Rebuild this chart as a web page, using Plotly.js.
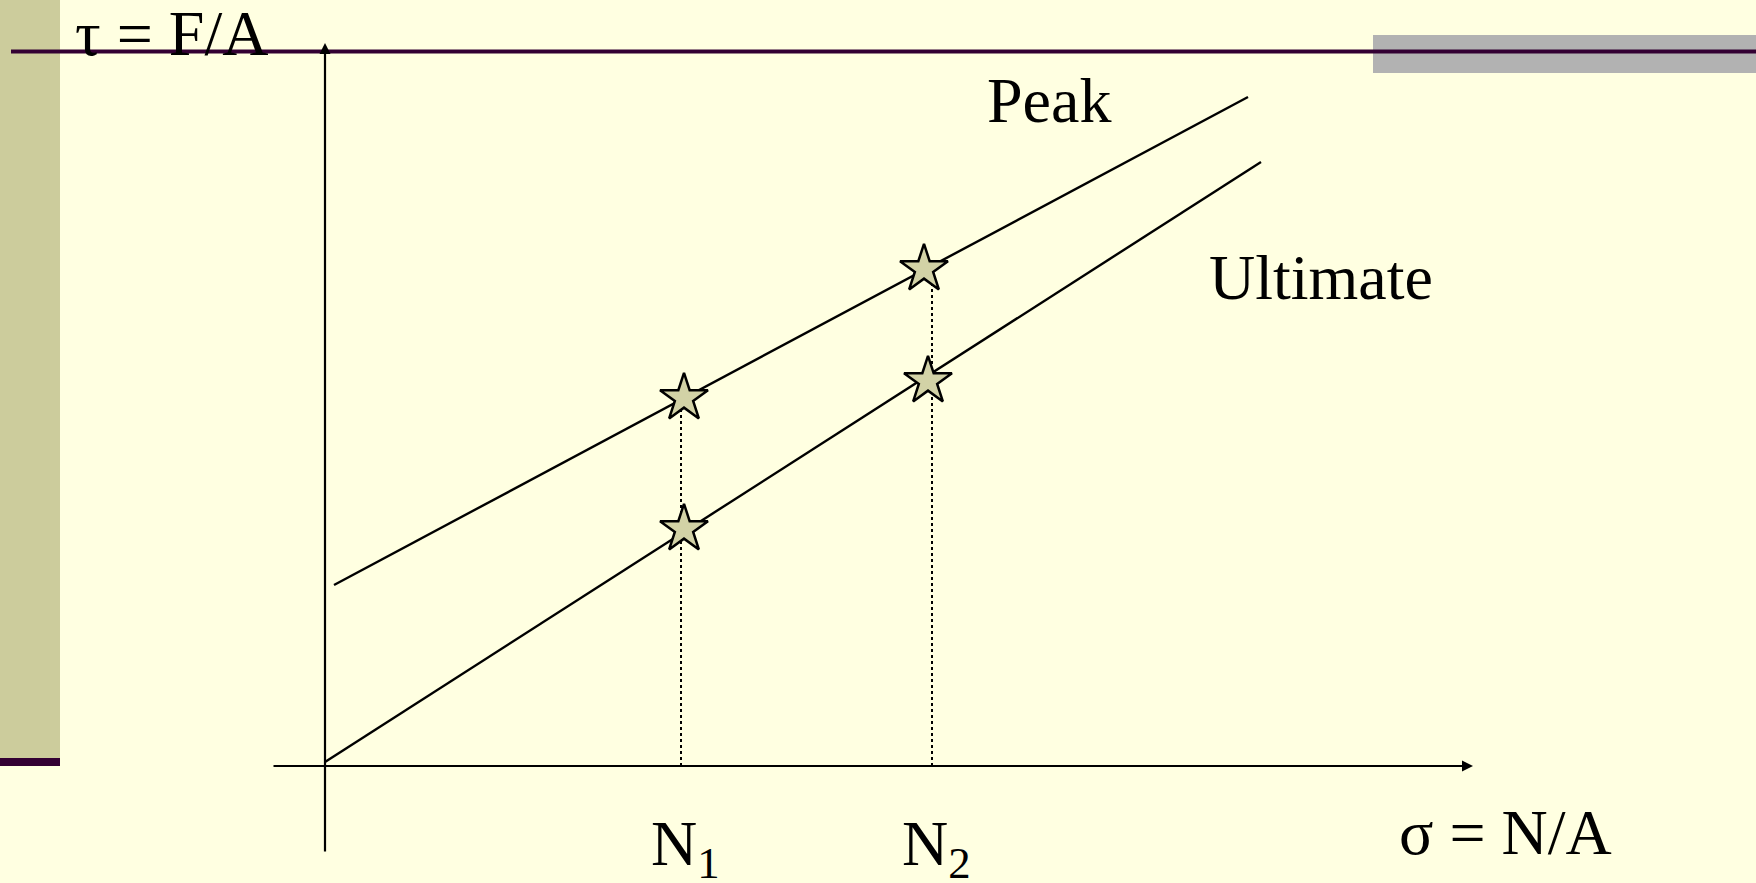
<!DOCTYPE html>
<html>
<head>
<meta charset="utf-8">
<script src="https://cdn.plot.ly/plotly-3.0.1.min.js"></script>
<style>
html,body{margin:0;padding:0;background:#FFFFE1;overflow:hidden;}
#chart{width:1756px;height:883px;}
</style>
</head>
<body>
<div id="chart"></div>
<script>
// ---- data (arbitrary stress units) ----
const normalStress = [3.56, 6.07];           // N1, N2 on the sigma axis
const tickLabels = ["N<sub>1</sub>", "N<sub>2</sub>"];
const peakLineX = [0.09, 9.23];
const peakLineY = [1.81, 6.69];
const ultimateLineX = [0.0, 9.36];
const ultimateLineY = [0.04, 6.04];
const peakStarX = [3.59, 5.99];
const peakStarY = [3.68, 4.97];
const ultimateStarX = [3.59, 6.03];
const ultimateStarY = [2.37, 3.85];
const seriesNames = ["Peak", "Ultimate"];
const xAxisLabel = "σ = N/A";
const yAxisLabel = "τ = F/A";

const serif = "Liberation Serif, Times New Roman, serif";
const black = "#000000";

const traces = [
  {x: peakLineX, y: peakLineY, mode: "lines", line: {color: black, width: 2.4}},
  {x: ultimateLineX, y: ultimateLineY, mode: "lines", line: {color: black, width: 2.4}},
  {x: [normalStress[0], normalStress[0]], y: [0, peakStarY[0]], mode: "lines", line: {color: black, width: 2, dash: "dot"}},
  {x: [normalStress[1], normalStress[1]], y: [0, peakStarY[1]], mode: "lines", line: {color: black, width: 2, dash: "dot"}},
  {x: peakStarX.concat(ultimateStarX), y: peakStarY.concat(ultimateStarY), mode: "markers",
   marker: {symbol: "star", size: 36, color: "#D2D2A6", line: {color: black, width: 2.5}}}
];

const annotations = [
  // axes arrows
  {x: 11.48, y: 0, ax: -0.53, ay: 0, xref: "x", yref: "y", axref: "x", ayref: "y",
   showarrow: true, arrowhead: 2, arrowsize: 1, arrowwidth: 2.2, arrowcolor: black, text: ""},
  {x: 0, y: 7.23, ax: 0, ay: -0.87, xref: "x", yref: "y", axref: "x", ayref: "y",
   showarrow: true, arrowhead: 2, arrowsize: 1, arrowwidth: 2.2, arrowcolor: black, text: ""},
  // labels
  {x: -2.52, y: 7.33, xref: "x", yref: "y", xanchor: "left", yanchor: "middle", showarrow: false,
   text: yAxisLabel, font: {family: serif, size: 64, color: black}},
  {x: 10.72, y: -0.66, xref: "x", yref: "y", xanchor: "left", yanchor: "middle", showarrow: false,
   text: xAxisLabel, font: {family: serif, size: 64, color: black}},
  {x: 6.6, y: 6.66, xref: "x", yref: "y", xanchor: "left", yanchor: "middle", showarrow: false,
   text: seriesNames[0], font: {family: serif, size: 64, color: black}},
  {x: 8.82, y: 4.89, xref: "x", yref: "y", xanchor: "left", yanchor: "middle", showarrow: false,
   text: seriesNames[1], font: {family: serif, size: 64, color: black}}
];
normalStress.forEach((n, i) => {
  annotations.push({x: n + 0.04, y: -0.4, xref: "x", yref: "y", xanchor: "center", yanchor: "top", showarrow: false,
    text: tickLabels[i], font: {family: serif, size: 64, color: black}});
});

const shapes = [
  // left olive bar and its dark cap
  {type: "rect", xref: "paper", yref: "paper", x0: 0, x1: 60/1756, y0: 1 - 758/883, y1: 1, fillcolor: "#CCCC9C", line: {width: 0}, layer: "below"},
  {type: "rect", xref: "paper", yref: "paper", x0: 0, x1: 60/1756, y0: 1 - 766/883, y1: 1 - 758/883, fillcolor: "#330033", line: {width: 0}, layer: "below"},
  // grey header block
  {type: "rect", xref: "paper", yref: "paper", x0: 1373/1756, x1: 1, y0: 1 - 73/883, y1: 1 - 35/883, fillcolor: "#B2B2B2", line: {width: 0}, layer: "below"},
  // top rule
  {type: "line", xref: "paper", yref: "paper", x0: 11/1756, x1: 1, y0: 1 - 51.5/883, y1: 1 - 51.5/883, line: {color: "#330033", width: 4}, layer: "below"}
];

const layout = {
  width: 1756, height: 883,
  margin: {l: 0, r: 0, t: 0, b: 0},
  paper_bgcolor: "#FFFFE1", plot_bgcolor: "rgba(0,0,0,0)",
  showlegend: false, hovermode: false,
  xaxis: {range: [-3.25, 14.31], visible: false, fixedrange: true},
  yaxis: {range: [-1.17, 7.66], visible: false, fixedrange: true},
  annotations: annotations,
  shapes: shapes
};

Plotly.newPlot("chart", traces, layout, {staticPlot: true, displayModeBar: false});
</script>
</body>
</html>
